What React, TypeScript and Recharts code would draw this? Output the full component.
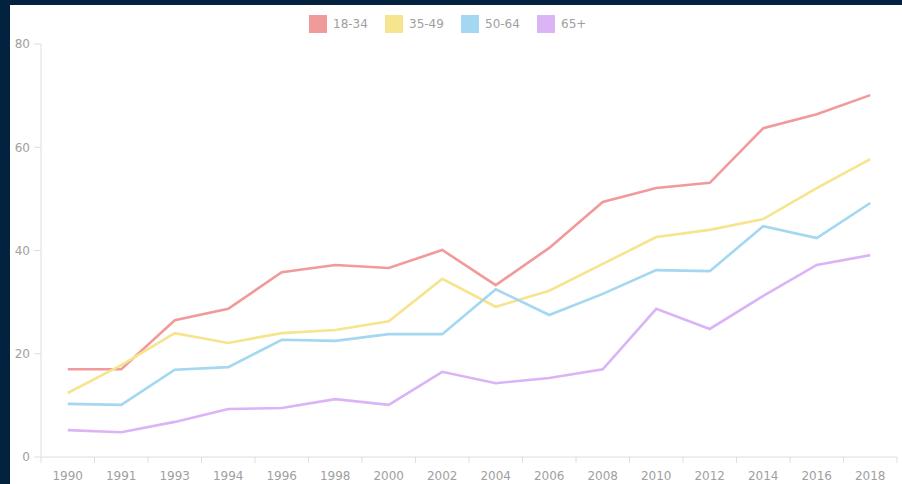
import React from "react";
import { LineChart, Line, XAxis, YAxis, Legend } from "recharts";

const years = ["1990", "1991", "1993", "1994", "1996", "1998", "2000", "2002", "2004", "2006", "2008", "2010", "2012", "2014", "2016", "2018"];
const age18to34 = [17.0, 17.0, 26.5, 28.7, 35.8, 37.2, 36.6, 40.1, 33.3, 40.5, 49.4, 52.1, 53.1, 63.7, 66.4, 70.1];
const age35to49 = [12.4, 17.8, 24.0, 22.1, 24.0, 24.6, 26.3, 34.5, 29.1, 32.2, 37.4, 42.6, 44.0, 46.1, 52.1, 57.7];
const age50to64 = [10.3, 10.1, 16.9, 17.4, 22.7, 22.5, 23.8, 23.8, 32.5, 27.5, 31.6, 36.2, 36.0, 44.7, 42.4, 49.2];
const age65plus = [5.2, 4.8, 6.8, 9.3, 9.5, 11.2, 10.1, 16.5, 14.3, 15.3, 17.0, 28.7, 24.8, 31.2, 37.2, 39.1];
const yTicks = [0, 20, 40, 60, 80];

const series = [
  { key: "a", name: "18-34", color: "#f19a9b", values: age18to34 },
  { key: "b", name: "35-49", color: "#f6e48e", values: age35to49 },
  { key: "c", name: "50-64", color: "#a4d7f1", values: age50to64 },
  { key: "d", name: "65+", color: "#dbb4f6", values: age65plus },
];

const data = years.map((year, i) => {
  const row: Record<string, string | number> = { year };
  series.forEach((s) => (row[s.key] = s.values[i]));
  return row;
});

const CHART_W = 892;
const CHART_H = 479;
const Y_W = 31;
const M_RIGHT = 5;
const BAND = (CHART_W - Y_W - M_RIGHT) / years.length;
const FONT = "'DejaVu Sans', Verdana, sans-serif";
const AXIS = "#dedede";
const LABEL = "#a0a0a0";

function XTick(props: any) {
  const { x, y, payload, index } = props;
  const last = index === years.length - 1;
  return (
    <g>
      <line x1={x - BAND / 2} x2={x - BAND / 2} y1={y} y2={y + 6} stroke={AXIS} />
      {last && <line x1={x + BAND / 2} x2={x + BAND / 2} y1={y} y2={y + 6} stroke={AXIS} />}
      <text x={x} y={y + 23} textAnchor="middle" fontSize={12} fill={LABEL} fontFamily={FONT}>
        {payload.value}
      </text>
    </g>
  );
}

function LegendContent() {
  return (
    <div style={{ display: "flex", fontFamily: FONT, fontSize: 12, color: LABEL }}>
      {series.map((s) => (
        <div key={s.key} style={{ display: "flex", alignItems: "center", width: 76 }}>
          <span style={{ width: 18, height: 18, background: s.color, display: "inline-block", marginRight: 6 }} />
          <span>{s.name}</span>
        </div>
      ))}
    </div>
  );
}

export default function App() {
  return (
    <div style={{ position: "absolute", left: 0, top: 0, width: 902, height: 484, background: "#02223f" }}>
      <div style={{ position: "absolute", left: 10, top: 5, width: CHART_W, height: CHART_H, background: "#ffffff" }}>
        <LineChart width={CHART_W} height={CHART_H} data={data} margin={{ top: 39, right: M_RIGHT, bottom: 0, left: 0 }}>
          <XAxis
            dataKey="year"
            height={27}
            padding={{ left: BAND / 2, right: BAND / 2 }}
            axisLine={{ stroke: AXIS }}
            tickLine={false}
            tickSize={0}
            tickMargin={0}
            interval={0}
            tick={<XTick />}
          />
          <YAxis
            width={Y_W}
            domain={[0, 80]}
            ticks={yTicks}
            axisLine={{ stroke: AXIS }}
            tickLine={{ stroke: AXIS }}
            tickSize={7}
            tickMargin={4}
            tick={{ fontSize: 12, fill: LABEL, fontFamily: FONT }}
          />
          <Legend
            verticalAlign="middle"
            align="center"
            content={<LegendContent />}
            wrapperStyle={{ top: 10, left: 299, width: "auto", height: 18 }}
          />
          {series.map((s) => (
            <Line
              key={s.key}
              type="linear"
              dataKey={s.key}
              name={s.name}
              stroke={s.color}
              strokeWidth={2.6}
              dot={false}
              activeDot={false}
              isAnimationActive={false}
            />
          ))}
        </LineChart>
      </div>
    </div>
  );
}
